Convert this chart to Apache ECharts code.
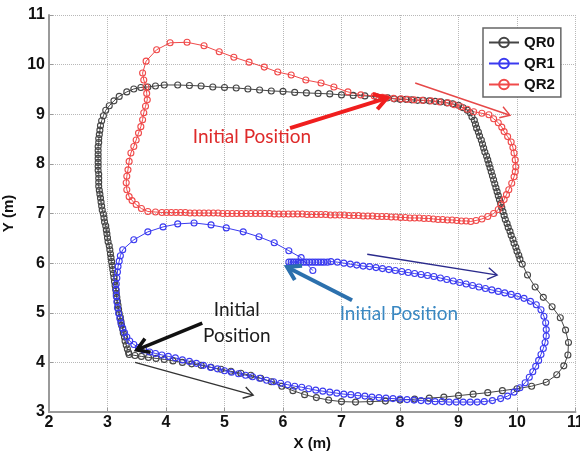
<!DOCTYPE html>
<html><head><meta charset="utf-8">
<script src="https://cdn.jsdelivr.net/npm/echarts@6/dist/echarts.min.js"></script>
<style>html,body{margin:0;padding:0;background:#fff}#c{width:580px;height:459px}</style>
</head><body><div id="c"></div>
<script>
// ---------------- data (metres) ----------------
const seriesNames = ['QR0', 'QR1', 'QR2'];

const qr0 = [
 [3.37,4.16],[3.47,4.14],[3.58,4.12],[3.70,4.10],[3.83,4.08],[3.97,4.06],[4.12,4.03],[4.28,4.00],[4.44,3.97],[4.60,3.94],
 [4.77,3.90],[4.94,3.86],[5.11,3.82],[5.28,3.78],[5.45,3.74],[5.62,3.68],[5.80,3.61],[5.98,3.52],[6.17,3.43],[6.37,3.35],
 [6.57,3.29],[6.78,3.24],[7.00,3.21],[7.24,3.20],[7.49,3.21],[7.75,3.22],[8.00,3.24],[8.25,3.26],[8.50,3.28],[8.75,3.30],
 [9.00,3.33],[9.25,3.36],[9.50,3.39],[9.75,3.43],[10.00,3.47],[10.25,3.52],[10.50,3.60],
 [10.68,3.75],[10.80,3.93],[10.87,4.15],[10.88,4.40],[10.83,4.65],[10.74,4.90],[10.60,5.12],[10.45,5.31],[10.31,5.52],[10.18,5.76],[10.09,5.98],
 [10.05,6.08],[10.03,6.16],[10.00,6.24],[9.98,6.32],[9.95,6.40],[9.93,6.48],[9.90,6.56],[9.88,6.64],[9.85,6.72],[9.83,6.80],
 [9.80,6.88],[9.78,6.96],[9.76,7.04],[9.74,7.12],[9.72,7.20],[9.70,7.28],[9.68,7.36],[9.66,7.44],[9.64,7.52],[9.62,7.60],
 [9.60,7.68],[9.58,7.76],[9.56,7.84],[9.54,7.92],[9.52,8.00],[9.50,8.08],[9.48,8.16],[9.45,8.24],[9.43,8.32],[9.41,8.40],
 [9.39,8.48],[9.36,8.56],[9.34,8.64],[9.31,8.72],[9.29,8.80],[9.27,8.88],[9.23,8.95],
 [9.20,9.03],[9.15,9.08],[9.08,9.13],[9.00,9.18],[8.90,9.21],[8.80,9.23],[8.70,9.25],[8.60,9.26],[8.50,9.27],[8.40,9.28],
 [8.30,9.28],[8.20,9.29],[8.10,9.30],[8.00,9.30],[7.90,9.31],[7.79,9.33],
 [7.60,9.35],[7.40,9.37],[7.20,9.38],[7.00,9.39],[6.80,9.41],[6.60,9.42],[6.40,9.43],[6.20,9.44],[6.00,9.46],[5.80,9.47],
 [5.60,9.49],[5.40,9.51],[5.20,9.53],[5.00,9.54],[4.80,9.55],[4.60,9.57],[4.40,9.58],[4.20,9.59],[3.97,9.59],[3.82,9.57],
 [3.69,9.55],[3.57,9.54],[3.45,9.51],[3.33,9.45],[3.20,9.36],[3.11,9.27],[3.03,9.17],[2.97,9.08],[2.93,8.97],[2.90,8.87],
 [2.88,8.77],[2.87,8.68],
 [2.86,8.59],[2.85,8.51],[2.85,8.43],[2.84,8.35],[2.84,8.27],[2.84,8.19],[2.84,8.11],[2.84,8.03],[2.84,7.95],[2.84,7.87],
 [2.85,7.79],[2.85,7.71],[2.85,7.63],[2.85,7.55],[2.86,7.47],[2.87,7.39],[2.88,7.31],[2.89,7.23],[2.90,7.15],[2.91,7.07],
 [2.93,6.99],[2.94,6.91],[2.95,6.83],[2.97,6.75],[2.98,6.67],[2.99,6.59],[3.00,6.51],[3.01,6.43],[3.03,6.35],[3.04,6.27],
 [3.05,6.19],[3.06,6.11],[3.07,6.03],[3.08,5.95],[3.09,5.87],[3.10,5.79],[3.11,5.71],[3.12,5.63],[3.13,5.55],[3.14,5.47],
 [3.15,5.39],[3.16,5.31],[3.17,5.23],[3.18,5.15],[3.19,5.07],[3.20,4.99],[3.22,4.91],[3.23,4.83],[3.24,4.75],[3.26,4.67],
 [3.27,4.59],[3.29,4.51],[3.30,4.43],[3.32,4.35],[3.34,4.27],[3.36,4.20]
];

const qr1 = [
 [6.10,6.02],[6.14,6.02],[6.18,6.02],[6.22,6.02],[6.26,6.02],[6.30,6.02],[6.35,6.02],[6.40,6.02],[6.45,6.02],[6.50,6.02],
 [6.55,6.02],[6.60,6.02],[6.65,6.02],[6.70,6.02],[6.76,6.02],[6.82,6.03],
 [6.93,6.02],[7.04,6.00],[7.15,5.98],[7.26,5.96],[7.37,5.94],[7.48,5.93],[7.59,5.91],[7.70,5.89],[7.81,5.87],[7.92,5.85],
 [8.03,5.83],[8.14,5.81],[8.25,5.79],[8.36,5.77],[8.47,5.75],[8.58,5.73],[8.69,5.70],[8.80,5.67],[8.91,5.64],[9.02,5.61],
 [9.13,5.58],[9.24,5.55],[9.35,5.52],[9.46,5.49],[9.57,5.46],[9.68,5.43],[9.79,5.40],[9.90,5.37],[10.01,5.33],[10.12,5.29],
 [10.23,5.23],[10.33,5.16],[10.41,5.06],
 [10.46,4.93],[10.49,4.80],[10.50,4.66],[10.50,4.53],[10.48,4.40],[10.45,4.28],[10.41,4.16],[10.37,4.04],[10.32,3.92],[10.27,3.81],
 [10.21,3.70],[10.14,3.59],[10.05,3.49],[9.95,3.40],[9.84,3.32],[9.72,3.27],[9.58,3.23],[9.44,3.21],
 [9.32,3.20],[9.20,3.20],[9.08,3.20],[8.96,3.20],[8.84,3.20],[8.72,3.21],[8.60,3.21],[8.48,3.22],[8.36,3.23],[8.24,3.24],
 [8.12,3.25],[8.00,3.26],[7.88,3.27],[7.76,3.28],[7.64,3.29],[7.52,3.30],[7.40,3.32],[7.28,3.33],[7.16,3.35],[7.04,3.36],
 [6.92,3.38],[6.80,3.40],[6.68,3.42],[6.56,3.44],[6.44,3.47],[6.32,3.50],[6.20,3.52],[6.08,3.55],[5.96,3.58],[5.84,3.61],
 [5.72,3.64],[5.60,3.68],[5.48,3.71],[5.36,3.74],[5.24,3.77],[5.12,3.80],[5.00,3.83],[4.88,3.87],[4.76,3.90],[4.64,3.94],
 [4.52,3.98],[4.40,4.02],[4.28,4.05],[4.16,4.09],[4.04,4.12],[3.93,4.15],[3.82,4.18],[3.72,4.21],[3.62,4.25],[3.53,4.30],
 [3.45,4.36],
 [3.38,4.43],[3.33,4.51],[3.29,4.60],[3.26,4.69],[3.23,4.79],[3.21,4.89],[3.19,4.99],[3.17,5.10],[3.16,5.22],[3.15,5.34],
 [3.15,5.46],[3.15,5.58],[3.16,5.70],[3.17,5.82],[3.18,5.93],[3.20,6.04],[3.22,6.15],
 [3.26,6.27],[3.45,6.47],[3.69,6.63],[3.95,6.73],[4.20,6.79],[4.48,6.81],[4.77,6.77],[5.03,6.71],[5.32,6.63],[5.59,6.53],
 [5.85,6.41],[6.10,6.25],[6.31,6.11],[6.51,5.85]
];

const qr2 = [
 [7.76,9.33],[7.89,9.32],[8.02,9.31],[8.13,9.30],[8.24,9.29],[8.38,9.28],[8.53,9.27],[8.67,9.25],[8.82,9.23],[8.93,9.19],
 [9.04,9.15],[9.15,9.10],[9.26,9.05],[9.40,9.02],[9.52,8.99],[9.60,8.91],[9.68,8.83],[9.74,8.74],[9.78,8.65],[9.84,8.55],
 [9.90,8.44],[9.93,8.33],[9.95,8.22],[9.97,8.08],[9.98,7.94],[9.97,7.84],[9.95,7.74],[9.91,7.61],[9.86,7.48],[9.82,7.38],
 [9.78,7.28],[9.73,7.18],[9.68,7.08],[9.60,7.00],[9.50,6.94],[9.40,6.89],[9.30,6.86],[9.21,6.84],
 [9.13,6.85],[9.05,6.85],[8.97,6.86],[8.89,6.87],[8.81,6.87],[8.73,6.88],[8.65,6.88],[8.57,6.89],[8.49,6.90],[8.41,6.90],
 [8.33,6.91],[8.25,6.91],[8.17,6.91],[8.09,6.92],[8.01,6.92],[7.93,6.93],[7.85,6.93],[7.77,6.94],[7.69,6.94],[7.61,6.94],
 [7.53,6.95],[7.45,6.95],[7.37,6.95],[7.29,6.96],[7.21,6.96],[7.13,6.96],[7.05,6.97],[6.97,6.97],[6.89,6.97],[6.81,6.97],
 [6.73,6.98],[6.65,6.98],[6.57,6.98],[6.49,6.98],[6.41,6.98],[6.33,6.99],[6.25,6.99],[6.17,6.99],[6.09,6.99],[6.01,6.99],
 [5.93,6.99],[5.85,6.99],[5.77,7.00],[5.69,7.00],[5.61,7.00],[5.53,7.00],[5.45,7.00],[5.37,7.00],[5.29,7.00],[5.21,7.00],
 [5.13,7.00],[5.05,7.00],[4.97,7.00],[4.89,7.01],[4.81,7.01],[4.73,7.01],[4.65,7.01],[4.57,7.01],[4.49,7.01],[4.41,7.01],
 [4.33,7.02],[4.25,7.02],[4.17,7.02],[4.09,7.02],[4.01,7.02],[3.93,7.02],
 [3.82,7.03],[3.69,7.04],[3.58,7.10],[3.49,7.18],[3.42,7.26],[3.37,7.34],[3.33,7.48],[3.32,7.62],[3.33,7.75],[3.35,7.88],
 [3.37,8.05],[3.40,8.22],[3.45,8.35],[3.49,8.48],[3.53,8.62],[3.57,8.75],[3.60,8.89],[3.62,9.03],[3.65,9.16],[3.68,9.29],
 [3.67,9.42],[3.66,9.55],[3.62,9.69],[3.60,9.83],[3.66,10.07],[3.84,10.30],[4.07,10.44],[4.36,10.45],[4.65,10.38],[4.91,10.26],
 [5.16,10.15],[5.42,10.05],[5.68,9.95],[5.91,9.85],[6.14,9.79],[6.39,9.69],[6.65,9.63],[6.87,9.55],[7.11,9.45],[7.33,9.39],
 [7.56,9.37],[7.70,9.34]
];

// annotation texts and arrows (in data coordinates)
const noteTexts = ['Initial Position', 'Initial\nPosition', 'Initial Position'];
const noteAnchors = [[5.47, 8.54], [5.21, 4.79], [7.98, 4.97]];
const arrowFrom = [[6.12, 8.72], [8.26, 9.63], [4.62, 4.79], [3.47, 4.00], [7.18, 5.25], [7.44, 6.18]];
const arrowTo   = [[7.78, 9.33], [9.88, 8.98], [3.50, 4.25], [5.49, 3.34], [6.07, 5.92], [9.66, 5.76]];

// ---------------- chart ----------------
const FONT = '"Liberation Sans", Arial, Helvetica, sans-serif';
const ANN_FONT = 'Lato, "Open Sans", sans-serif';
const colors = ['#444444', '#3a3af0', '#f04a4a'];
const datasets = [qr0, qr1, qr2];

const chart = echarts.init(document.getElementById('c'), null, {renderer: 'canvas'});

function mkSeries(i) {
  return {
    name: seriesNames[i], type: 'line', data: datasets[i],
    symbol: 'circle', symbolSize: 6, showAllSymbol: true, smooth: false,
    lineStyle: {color: colors[i], width: 1},
    itemStyle: {color: 'rgba(255,255,255,0)', borderColor: colors[i], borderWidth: 1.1},
    emphasis: {disabled: true}, silent: true, animation: false, clip: true
  };
}

const axisCommon = {
  type: 'value', interval: 1,
  axisLine: {show: true, onZero: false, lineStyle: {color: '#9a9a9a', width: 2}},
  axisTick: {show: true, inside: true, length: 4, lineStyle: {color: '#9a9a9a', width: 1}},
  axisLabel: {color: '#111', fontSize: 16, fontWeight: 'bold', fontFamily: FONT},
  splitLine: {show: true, lineStyle: {type: 'dotted', color: '#b8b8b8', width: 1}},
  nameLocation: 'middle',
  nameTextStyle: {color: '#111', fontSize: 15, fontWeight: 'bold', fontFamily: FONT}
};

chart.setOption({
  animation: false,
  backgroundColor: '#fff',
  grid: {left: 49, right: 4.5, top: 15, bottom: 47, containLabel: false, outerBoundsMode: 'none'},
  xAxis: Object.assign({}, axisCommon, {
    min: 2, max: 11, name: 'X (m)', nameGap: 22,
    axisLabel: Object.assign({}, axisCommon.axisLabel, {margin: 3})
  }),
  yAxis: Object.assign({}, axisCommon, {
    min: 3, max: 11, name: 'Y (m)', nameGap: 30, nameRotate: 90,
    axisLabel: Object.assign({}, axisCommon.axisLabel, {margin: 4})
  }),
  legend: {
    data: seriesNames, orient: 'vertical', left: 483, top: 28,
    padding: [7, 6, 5, 5], itemGap: 6, itemWidth: 30, itemHeight: 12,
    backgroundColor: '#fff', borderColor: '#666', borderWidth: 1.5, borderRadius: 0,
    textStyle: {color: '#111', fontSize: 15, fontWeight: 'bold', fontFamily: FONT},
    selectedMode: false
  },
  series: [mkSeries(0), mkSeries(1), mkSeries(2)]
});

// build annotations through the chart's own coordinate conversion
const arrowColors = ['#f01e1e', '#e64848', '#111111', '#333333', '#2c70ad', '#2a2a8c'];
const arrowWidths = [4, 1.4, 3.5, 1.4, 4, 1.4];
const headLens = [15, 11, 14, 11, 15, 11];
const graphics = [];
for (let i = 0; i < arrowFrom.length; i++) {
  const p1 = chart.convertToPixel({gridIndex: 0}, arrowFrom[i]);
  const p2 = chart.convertToPixel({gridIndex: 0}, arrowTo[i]);
  const dx = p2[0] - p1[0], dy = p2[1] - p1[1];
  const len = Math.sqrt(dx * dx + dy * dy);
  const ux = dx / len, uy = dy / len;
  const L = headLens[i], a = Math.PI / 180 * 32;
  const ca = Math.cos(a), sa = Math.sin(a);
  const left = [p2[0] - L * (ux * ca - uy * sa), p2[1] - L * (uy * ca + ux * sa)];
  const right = [p2[0] - L * (ux * ca + uy * sa), p2[1] - L * (uy * ca - ux * sa)];
  graphics.push({type: 'line', silent: true, z: 50,
    shape: {x1: p1[0], y1: p1[1], x2: p2[0] - ux * arrowWidths[i] * 0.6, y2: p2[1] - uy * arrowWidths[i] * 0.6},
    style: {stroke: arrowColors[i], lineWidth: arrowWidths[i], lineCap: 'butt'}});
  graphics.push({type: 'polyline', silent: true, z: 50,
    shape: {points: [left, p2, right]},
    style: {stroke: arrowColors[i], fill: null, lineWidth: arrowWidths[i], lineJoin: 'miter', miterLimit: 10}});
}
const noteColors = ['#de2a2a', '#1c1c1c', '#3a88c2'];
for (let i = 0; i < noteTexts.length; i++) {
  const p = chart.convertToPixel({gridIndex: 0}, noteAnchors[i]);
  graphics.push({type: 'text', silent: true, z: 60, x: p[0], y: p[1],
    style: {text: noteTexts[i], fill: noteColors[i], font: '19px ' + ANN_FONT,
      align: 'center', verticalAlign: 'middle', textAlign: 'center', textVerticalAlign: 'middle', lineHeight: 26}});
}
chart.setOption({graphic: graphics});
</script>
</body></html>
